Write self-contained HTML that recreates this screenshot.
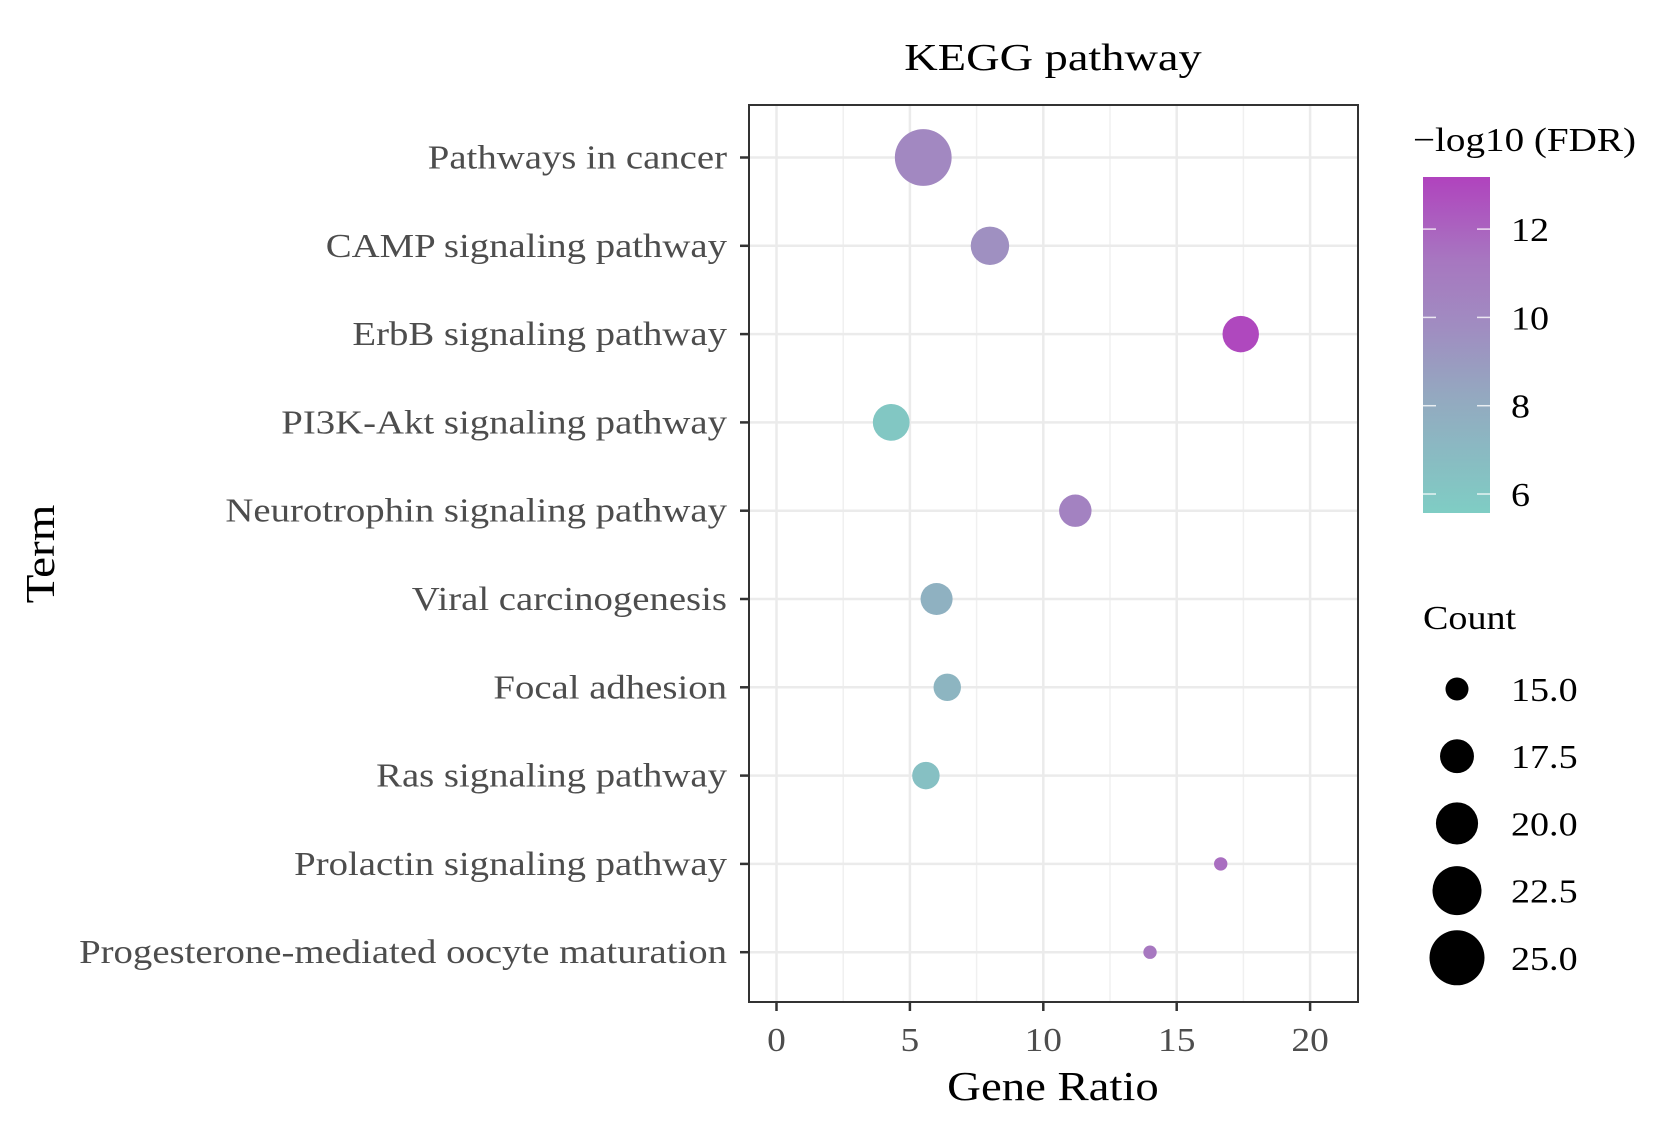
<!DOCTYPE html>
<html><head><meta charset="utf-8"><style>
html,body{margin:0;padding:0;background:#fff;}
svg{display:block;font-family:"Liberation Serif","Times New Roman",serif;}
</style></head><body>
<svg id="chart" width="1654" height="1126" viewBox="0 0 1654 1126" xmlns="http://www.w3.org/2000/svg">
<defs>
<linearGradient id="fdrGrad" x1="0" y1="1" x2="0" y2="0">
<stop offset="0" stop-color="#7fcdc4"/>
<stop offset="0.35" stop-color="#94a8c0"/>
<stop offset="0.55" stop-color="#a08dc1"/>
<stop offset="0.75" stop-color="#a777c0"/>
<stop offset="1" stop-color="#b043be"/>
</linearGradient>
</defs>
<text id="title" x="1053" y="70" font-size="38" text-anchor="middle" fill="#000">KEGG pathway</text>
<g id="panel"></g>
<g id="legend"></g>
</svg>
<script>
const terms = ["Pathways in cancer","CAMP signaling pathway","ErbB signaling pathway","PI3K-Akt signaling pathway","Neurotrophin signaling pathway","Viral carcinogenesis","Focal adhesion","Ras signaling pathway","Prolactin signaling pathway","Progesterone-mediated oocyte maturation"];
const geneRatio = [5.5, 8.0, 17.4, 4.3, 11.2, 6.0, 6.4, 5.6, 16.65, 14.0];
const counts = [25.8, 18.8, 18.2, 18.3, 17.1, 17.0, 15.9, 15.9, 13.6, 13.6];
const fdr = [10.1, 9.6, 13.0, 6.0, 10.5, 7.6, 7.3, 6.5, 11.6, 11.2];
const xTicks = [0, 5, 10, 15, 20];
const xMinor = [2.5, 7.5, 12.5, 17.5];
const fdrTicks = [6, 8, 10, 12];
const countLegend = [15.0, 17.5, 20.0, 22.5, 25.0];

const NS = "http://www.w3.org/2000/svg";
const P = {l:749, r:1358, t:105, b:1002};
const X = v => 776.5 + v * 26.68;
const rowY = i => 157.5 + i * 88.3;
const diam = c => Math.sqrt(Math.max(0, 529 + 249.6 * (c - 15)));
const fdrMin = 5.57, fdrMax = 13.18, barTop = 177, barBot = 513;
const fdrY = v => barBot - (v - fdrMin) / (fdrMax - fdrMin) * (barBot - barTop);
function lerp(a,b,t){return a+(b-a)*t;}
const stops = [[0,[127,205,196]],[0.35,[148,168,192]],[0.55,[160,141,193]],[0.75,[167,119,192]],[1,[176,67,190]]];
function color(v){
  let t = Math.min(1, Math.max(0, (v - fdrMin) / (fdrMax - fdrMin)));
  for (let k=0;k<stops.length-1;k++){
    const [t0,c0]=stops[k],[t1,c1]=stops[k+1];
    if (t<=t1){const u=(t-t0)/(t1-t0);return `rgb(${c0.map((c,j)=>Math.round(lerp(c,c1[j],u))).join(',')})`;}
  }
  return "rgb(176,67,190)";
}
function mk(tag, attrs, parent, text){
  const e = document.createElementNS(NS, tag);
  for (const k in attrs) e.setAttribute(k, attrs[k]);
  if (text !== undefined) e.textContent = text;
  parent.appendChild(e);
  return e;
}
function stretch(el, f){
  const w = el.getComputedTextLength();
  el.setAttribute('textLength', (w*f).toFixed(1));
  el.setAttribute('lengthAdjust','spacingAndGlyphs');
}
const panel = document.getElementById('panel');
const legend = document.getElementById('legend');
stretch(document.getElementById('title'), 1.22);

const bg = mk('rect',{x:P.l,y:P.t,width:P.r-P.l,height:P.b-P.t,fill:'#fff'},panel);



xMinor.forEach(v=>{
  const g = mk('line',{x1:X(v),x2:X(v),y1:P.t,y2:P.b,stroke:'#f0f0f0','stroke-width':1.5},panel);
  
  
});
xTicks.forEach(v=>{
  const g = mk('line',{x1:X(v),x2:X(v),y1:P.t,y2:P.b,stroke:'#ebebeb','stroke-width':2.5},panel);
  
  
  const t = mk('line',{x1:X(v),x2:X(v),y1:P.b,y2:P.b+9,stroke:'#333','stroke-width':2.5},panel);
  
  
  const l = mk('text',{x:X(v),y:1051,'font-size':34,'text-anchor':'middle',fill:'#4d4d4d'},panel,String(v));
  
  
  stretch(l, 1.1);
});
terms.forEach((name,i)=>{
  const y = rowY(i);
  const g = mk('line',{x1:P.l,x2:P.r,y1:y,y2:y,stroke:'#ebebeb','stroke-width':2.5},panel);
  
  
  const t = mk('line',{x1:P.l-9,x2:P.l,y1:y,y2:y,stroke:'#333','stroke-width':2.5},panel);
  
  
  const l = mk('text',{x:727,y:y+11,'font-size':34,'text-anchor':'end',fill:'#4d4d4d'},panel,name);
  
  
  stretch(l, 1.14);
});
terms.forEach((name,i)=>{
  const c = mk('circle',{cx:X(geneRatio[i]),cy:rowY(i),r:diam(counts[i])/2,fill:color(fdr[i])},panel);
  
  
});
const border = mk('rect',{x:P.l,y:P.t,width:P.r-P.l,height:P.b-P.t,fill:'none',stroke:'#333','stroke-width':2},panel);



const xt = mk('text',{x:1053,y:1100,'font-size':41,'text-anchor':'middle',fill:'#000'},panel,'Gene Ratio');


stretch(xt, 1.14);
const yt = mk('text',{x:0,y:0,'font-size':41,'text-anchor':'middle',fill:'#000',transform:'translate(54,554) rotate(-90)'},panel,'Term');


stretch(yt, 1.15);

// color legend
const lt = mk('text',{x:1413,y:151,'font-size':34,fill:'#000'},legend,'\u2212log10 (FDR)');


stretch(lt, 1.15);
const bar = mk('rect',{x:1423,y:barTop,width:67,height:barBot-barTop,fill:'url(#fdrGrad)'},legend);


fdrTicks.forEach(v=>{
  const y = fdrY(v);
  const a = mk('line',{x1:1423,x2:1436,y1:y,y2:y,stroke:'#fff','stroke-width':1.5,opacity:0.8},legend);
  
  
  const b = mk('line',{x1:1477,x2:1490,y1:y,y2:y,stroke:'#fff','stroke-width':1.5,opacity:0.8},legend);
  
  
  const l = mk('text',{x:1511,y:y+12,'font-size':34,fill:'#000'},legend,String(v));
  
  
  stretch(l, 1.12);
});
// size legend
const st = mk('text',{x:1423,y:629,'font-size':34,fill:'#000'},legend,'Count');


stretch(st, 1.12);
countLegend.forEach((v,k)=>{
  const y = 689 + k * 67.2;
  const c = mk('circle',{cx:1457,cy:y,r:diam(v)/2,fill:'#000'},legend);
  
  
  const l = mk('text',{x:1511,y:y+12,'font-size':34,fill:'#000'},legend,v.toFixed(1));
  
  
  stretch(l, 1.12);
});
</script>
</body></html>
